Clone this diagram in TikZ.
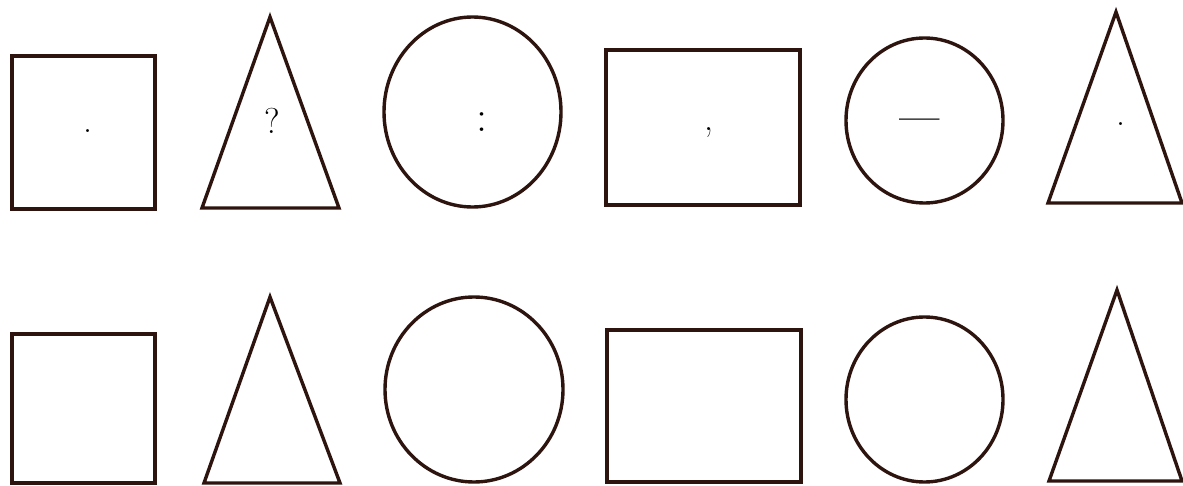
\documentclass[tikz,border=0pt]{standalone}
\usepackage{fontspec}
\definecolor{ink}{RGB}{45,20,15}
\begin{document}
\begin{tikzpicture}[x=1pt,y=-1pt,
  shapeline/.style={draw=ink,line width=3.4pt,line join=miter},
  punct/.style={inner sep=0pt,text=black,font=\fontsize{36}{40}\selectfont}]
\useasboundingbox[fill=white] (0,0) rectangle (1183,486);
% top row
\draw[shapeline] (12,56) rectangle (155,209);
\draw[shapeline] (270,17) -- (339,208) -- (202,208) -- cycle;
\draw[shapeline] (472.5,112) ellipse [x radius=88.5,y radius=95];
\draw[shapeline] (606,50) rectangle (800,205);
\draw[shapeline] (924.5,120.5) ellipse [x radius=78.5,y radius=82.5];
\draw[shapeline] (1116,12) -- (1182,203) -- (1048,203) -- cycle;
% marks
\node[punct] (p1) at (88,131) {.};
\node[punct] (p2) at (272,121) {?};
\node[punct,font=\fontsize{44}{50}\selectfont] (p3) at (482,122) {:};
\node[punct] (p4) at (709,133) {,};
\node[punct,font=\fontsize{36}{40}\selectfont\bfseries] (p5) at (920,124) {---};
\node[punct] (p6) at (1121,124) {.};
% bottom row
\draw[shapeline] (12,334) rectangle (155,483);
\draw[shapeline] (270,297) -- (340,483) -- (204,483) -- cycle;
\draw[shapeline] (474,389.5) ellipse [x radius=89,y radius=92.5];
\draw[shapeline] (607,330) rectangle (801,482);
\draw[shapeline] (924.5,399.5) ellipse [x radius=78.5,y radius=82.5];
\draw[shapeline] (1117,290) -- (1182,481) -- (1049,481) -- cycle;
\end{tikzpicture}
\end{document}
